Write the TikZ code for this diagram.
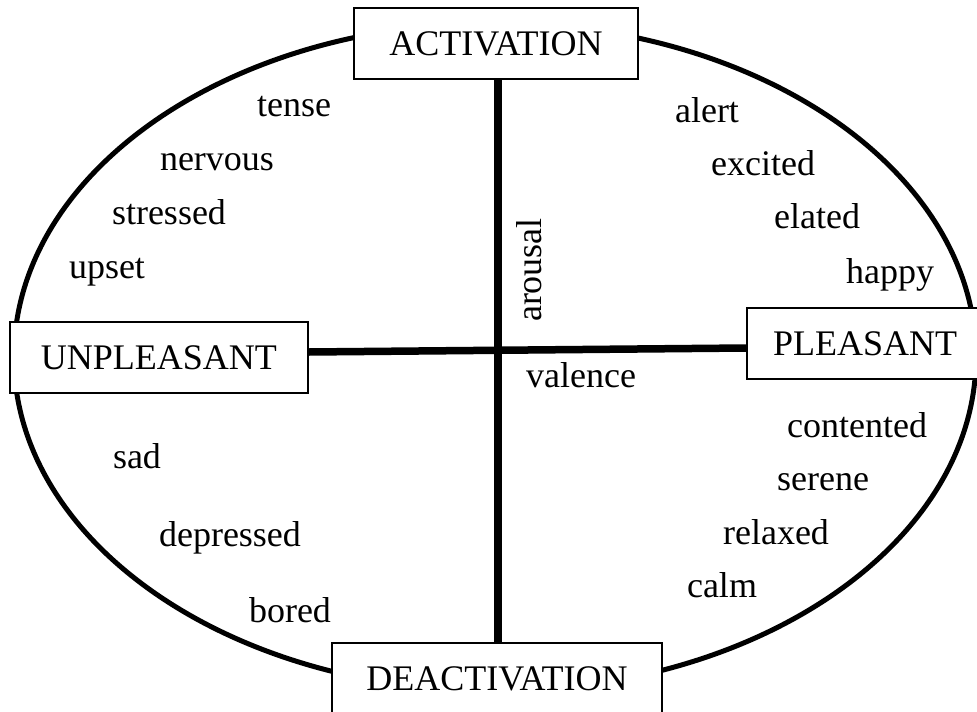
\documentclass[tikz,border=0pt]{standalone}
\usepackage{fontspec}
\setmainfont{Liberation Serif}
\begin{document}
\begin{tikzpicture}[x=1pt,y=-1pt,
  every node/.style={font=\fontsize{36}{40}\selectfont},
  axisbox/.style={draw=black, line width=1.8pt, fill=white, inner sep=0pt},
  word/.style={anchor=base, inner sep=0pt},
  axisline/.style={line width=7.5pt},
  rim/.style={line width=5pt}]
\useasboundingbox (0,0) rectangle (977,712);
\begin{scope}
\clip (0,0) rectangle (977,712);
% ellipse
\draw[rim] (495,357) ellipse [x radius=481, y radius=334];
% boxes
\node[axisbox, minimum width=284pt, minimum height=71pt] (act) at (496,43.5) {ACTIVATION};
\node[axisbox, minimum width=330pt, minimum height=72pt] (deact) at (497,679) {DEACTIVATION};
\node[axisbox, minimum width=298pt, minimum height=71pt] (unp) at (159,357.5) {UNPLEASANT};
\node[axisbox, minimum width=236pt, minimum height=71pt] (ple) at (865,343.5) {PLEASANT};
% axes
\draw[axisline] ([xshift=2pt]act.south) -- ([xshift=1pt]deact.north);
\draw[axisline] ([yshift=5.5pt]unp.east) -- ([yshift=-4.5pt]ple.west);
\end{scope}
% axis labels
\node[word, rotate=90] (arousal) at (541,270) {arousal};
\node[word] (valence) at (581,387) {valence};
% words
\node[word] (tense) at (294,116) {tense};
\node[word] (nervous) at (217,170) {nervous};
\node[word] (stressed) at (169,224) {stressed};
\node[word] (upset) at (107,278) {upset};
\node[word] (alert) at (707,122) {alert};
\node[word] (excited) at (763,175) {excited};
\node[word] (elated) at (817,228) {elated};
\node[word] (happy) at (890,283) {happy};
\node[word] (contented) at (857,437) {contented};
\node[word] (serene) at (823,490) {serene};
\node[word] (relaxed) at (776,544) {relaxed};
\node[word] (calm) at (722,597) {calm};
\node[word] (sad) at (137,468) {sad};
\node[word] (depressed) at (230,546) {depressed};
\node[word] (bored) at (290,622) {bored};
\end{tikzpicture}
\end{document}
